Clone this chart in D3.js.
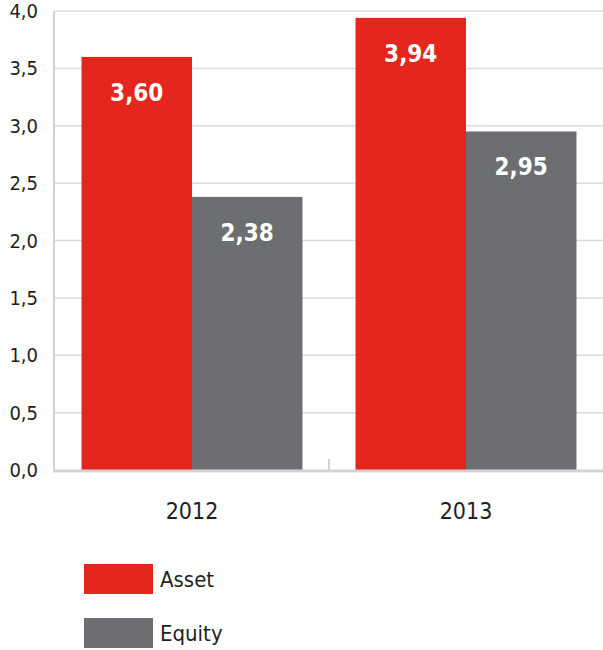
<!DOCTYPE html>
<html>
<head>
<meta charset="utf-8">
<script src="https://cdn.jsdelivr.net/npm/d3@7"></script>
<style>
  body { margin: 0; background: #fff; }
  svg { display: block; }
  text { font-family: "Liberation Sans Narrow", "DejaVu Sans Condensed", "Roboto", sans-serif; font-stretch: condensed; }
</style>
</head>
<body>
<div id="chart"></div>
<script>
var years = ["2012", "2013"]
var series = ["Asset", "Equity"]
var asset = [3.60, 3.94]
var equity = [2.38, 2.95]
var yTicks = [0, 0.5, 1, 1.5, 2, 2.5, 3, 3.5, 4]
var colors = { Asset: "#e5261c", Equity: "#6d6e71" }

var width = 603, height = 650
var mLeft = 55, mRight = 603, mTop = 11, mBottom = 470

var rows = years.map(function(y, i) { return { year: y, Asset: asset[i], Equity: equity[i] } })

var svg = d3.select("#chart").append("svg")
    .attr("width", width)
    .attr("height", height)

var x0 = d3.scaleBand().domain(years).range([mLeft, mRight])
var x1 = d3.scaleBand().domain(series).range([0, x0.bandwidth()]).paddingOuter(0.24)
var y = d3.scaleLinear().domain([0, 4]).range([mBottom, mTop])

// grid lines
svg.append("g")
  .selectAll("line")
  .data(yTicks.filter(function(d) { return d > 0 }))
  .join("line")
    .attr("x1", mLeft).attr("x2", mRight)
    .attr("y1", function(d) { return y(d) }).attr("y2", function(d) { return y(d) })
    .attr("stroke", "#dcdcdc").attr("stroke-width", 1.5)

// y tick labels
svg.append("g")
  .selectAll("text")
  .data(yTicks)
  .join("text")
    .attr("x", 38)
    .attr("y", function(d) { return y(d) + 7 })
    .attr("text-anchor", "end")
    .attr("font-size", 20)
    .attr("fill", "#231f20")
    .text(function(d) { return d.toFixed(1).replace(".", ",") })

// bars
var groups = svg.append("g")
  .selectAll("g")
  .data(rows)
  .join("g")
    .attr("transform", function(d) { return "translate(" + x0(d.year) + ",0)" })

groups.selectAll("rect")
  .data(function(d) { return series.map(function(s) { return { key: s, value: d[s] } }) })
  .join("rect")
    .attr("x", function(d) { return x1(d.key) })
    .attr("width", x1.bandwidth())
    .attr("y", function(d) { return y(d.value) })
    .attr("height", function(d) { return mBottom - y(d.value) })
    .attr("fill", function(d) { return colors[d.key] })

groups.selectAll("text")
  .data(function(d) { return series.map(function(s) { return { key: s, value: d[s] } }) })
  .join("text")
    .attr("x", function(d) { return x1(d.key) + x1.bandwidth() / 2 })
    .attr("y", function(d) { return y(d.value) + 44 })
    .attr("text-anchor", "middle")
    .attr("font-size", 24)
    .attr("font-weight", "bold")
    .attr("fill", "#fff")
    .text(function(d) { return d.value.toFixed(2).replace(".", ",") })

// axes lines
svg.append("line")
  .attr("x1", 54).attr("x2", 54).attr("y1", mTop).attr("y2", mBottom + 1)
  .attr("stroke", "#d3d3d3").attr("stroke-width", 2)
svg.append("line")
  .attr("x1", 53).attr("x2", mRight).attr("y1", mBottom + 1).attr("y2", mBottom + 1)
  .attr("stroke", "#d3d3d3").attr("stroke-width", 3)
svg.append("line")
  .attr("x1", x0("2013")).attr("x2", x0("2013")).attr("y1", mBottom - 11).attr("y2", mBottom)
  .attr("stroke", "#d3d3d3").attr("stroke-width", 2)

// x labels
svg.append("g")
  .selectAll("text")
  .data(years)
  .join("text")
    .attr("x", function(d) { return x0(d) + x1("Equity") })
    .attr("y", 519)
    .attr("text-anchor", "middle")
    .attr("font-size", 23)
    .attr("fill", "#231f20")
    .text(function(d) { return d })

// legend
var legend = svg.append("g")
  .selectAll("g")
  .data(series)
  .join("g")
    .attr("transform", function(d, i) { return "translate(84," + (564 + i * 54) + ")" })

legend.append("rect")
  .attr("width", 69).attr("height", 30)
  .attr("fill", function(d) { return colors[d] })

legend.append("text")
  .attr("x", 76).attr("y", 23)
  .attr("font-size", 22)
  .attr("fill", "#231f20")
  .text(function(d) { return d })
</script>
</body>
</html>
